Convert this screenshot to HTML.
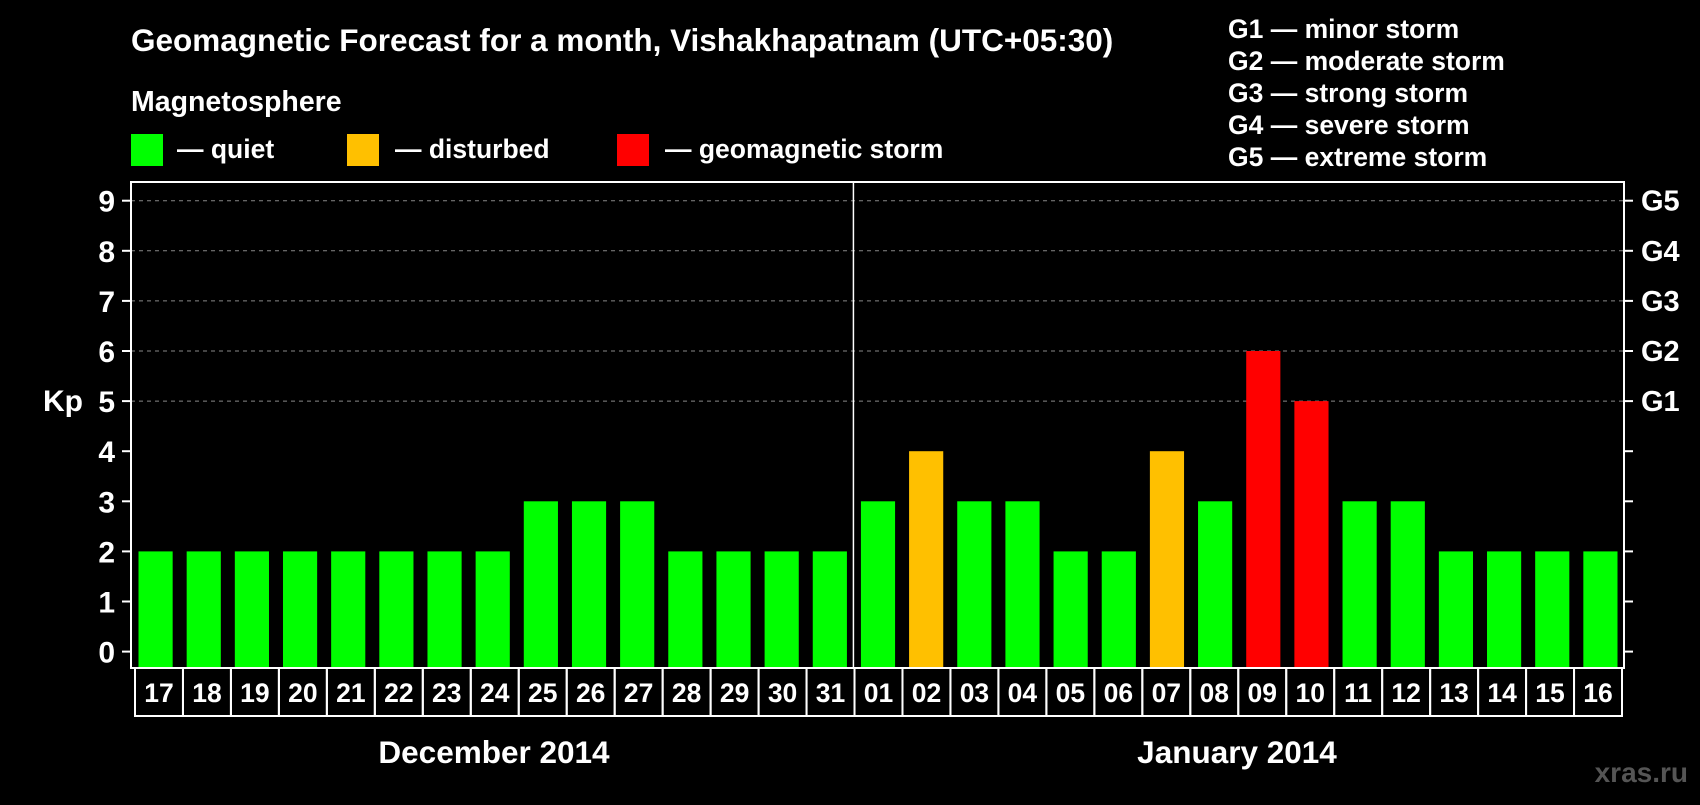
<!DOCTYPE html>
<html><head><meta charset="utf-8">
<style>
body{margin:0;background:#000;width:1700px;height:800px;overflow:hidden}
svg text{font-family:"Liberation Sans",sans-serif;font-weight:bold;fill:#fff}
</style></head>
<body>
<svg id="chart" width="1700" height="800" xmlns="http://www.w3.org/2000/svg">
<rect width="1700" height="800" fill="#000"/>
<text x="131" y="51" font-size="31.5">Geomagnetic Forecast for a month, Vishakhapatnam (UTC+05:30)</text>
<text x="131" y="111" font-size="28.5">Magnetosphere</text>
<g><rect x="131" y="134" width="32" height="32" fill="#00ff00"/><text x="177" y="158" font-size="26.5">— quiet</text></g>
<g><rect x="347" y="134" width="32" height="32" fill="#ffc000"/><text x="395" y="158" font-size="26.5">— disturbed</text></g>
<g><rect x="617" y="134" width="32" height="32" fill="#ff0000"/><text x="665" y="158" font-size="26.5">— geomagnetic storm</text></g>
<g>
<text x="1228" y="38" font-size="26.5">G1 — minor storm</text>
<text x="1228" y="70" font-size="26.5">G2 — moderate storm</text>
<text x="1228" y="102" font-size="26.5">G3 — strong storm</text>
<text x="1228" y="134" font-size="26.5">G4 — severe storm</text>
<text x="1228" y="166" font-size="26.5">G5 — extreme storm</text>
</g>
<text x="43" y="411" font-size="30">Kp</text>
<g id="grid"></g><g id="bars"></g><g id="axes"></g>
<text x="494" y="763" font-size="31.5" text-anchor="middle">December 2014</text>
<text x="1237" y="763" font-size="31.5" text-anchor="middle">January 2014</text>
<text x="1688" y="782" font-size="28" text-anchor="end" style="fill:#555">xras.ru</text>
</svg>
<script>
const days=["17","18","19","20","21","22","23","24","25","26","27","28","29","30","31","01","02","03","04","05","06","07","08","09","10","11","12","13","14","15","16"];
const kp=[2,2,2,2,2,2,2,2,3,3,3,2,2,2,2,3,4,3,3,2,2,4,3,6,5,3,3,2,2,2,2];
const yTicks=[0,1,2,3,4,5,6,7,8,9];
const gLabels=["G1","G2","G3","G4","G5"];
const gLevels=[5,6,7,8,9];
const NS="http://www.w3.org/2000/svg";
const L=131,R=1624,T=182,B=668;
const y=v=>651.6-v*50.1;
const slot=(R-L)/days.length;
const x=i=>L+i*slot;
function mk(tag,attrs,parent){const e=document.createElementNS(NS,tag);for(const k in attrs)e.setAttribute(k,attrs[k]);parent.appendChild(e);return e;}
const grid=document.getElementById('grid'),bars=document.getElementById('bars'),axes=document.getElementById('axes');
gLevels.forEach((v,i)=>{
 const ln=mk('line',{x1:L,x2:R,y1:y(v),y2:y(v),stroke:'#888','stroke-dasharray':'4,4','stroke-width':1},grid);
 
 
 const t=mk('text',{x:1641,y:y(v)+10,'font-size':29},axes);t.textContent=gLabels[i];
 
 
});
kp.forEach((v,i)=>{
 const c=v>=5?'#ff0000':(v>=4?'#ffc000':'#00ff00');
 const r=mk('rect',{x:x(i)+7.5,y:y(v),width:slot-14,height:B-y(v),fill:c},bars);
 
 
 const bw=(1622-135)/days.length;
 const b=mk('rect',{x:135+i*bw,y:B,width:bw,height:48,fill:'none',stroke:'#fff','stroke-width':2},axes);
 
 
 const t=mk('text',{x:135+i*bw+bw/2,y:B+34,'font-size':26.5,'text-anchor':'middle'},axes);t.textContent=days[i];
 
 
});
const fr=mk('rect',{x:L,y:T,width:R-L,height:B-T,fill:'none',stroke:'#fff','stroke-width':2},axes);


const dv=mk('line',{x1:x(15),x2:x(15),y1:T,y2:B,stroke:'#fff','stroke-width':1.5},axes);


yTicks.forEach(v=>{
 const a=mk('line',{x1:L-9,x2:L,y1:y(v),y2:y(v),stroke:'#fff','stroke-width':2},axes);
 
 
 const b=mk('line',{x1:R,x2:R+9,y1:y(v),y2:y(v),stroke:'#fff','stroke-width':2},axes);
 
 
 const t=mk('text',{x:115,y:y(v)+11,'font-size':30,'text-anchor':'end'},axes);t.textContent=v;
 
 
});
</script>
</body></html>
